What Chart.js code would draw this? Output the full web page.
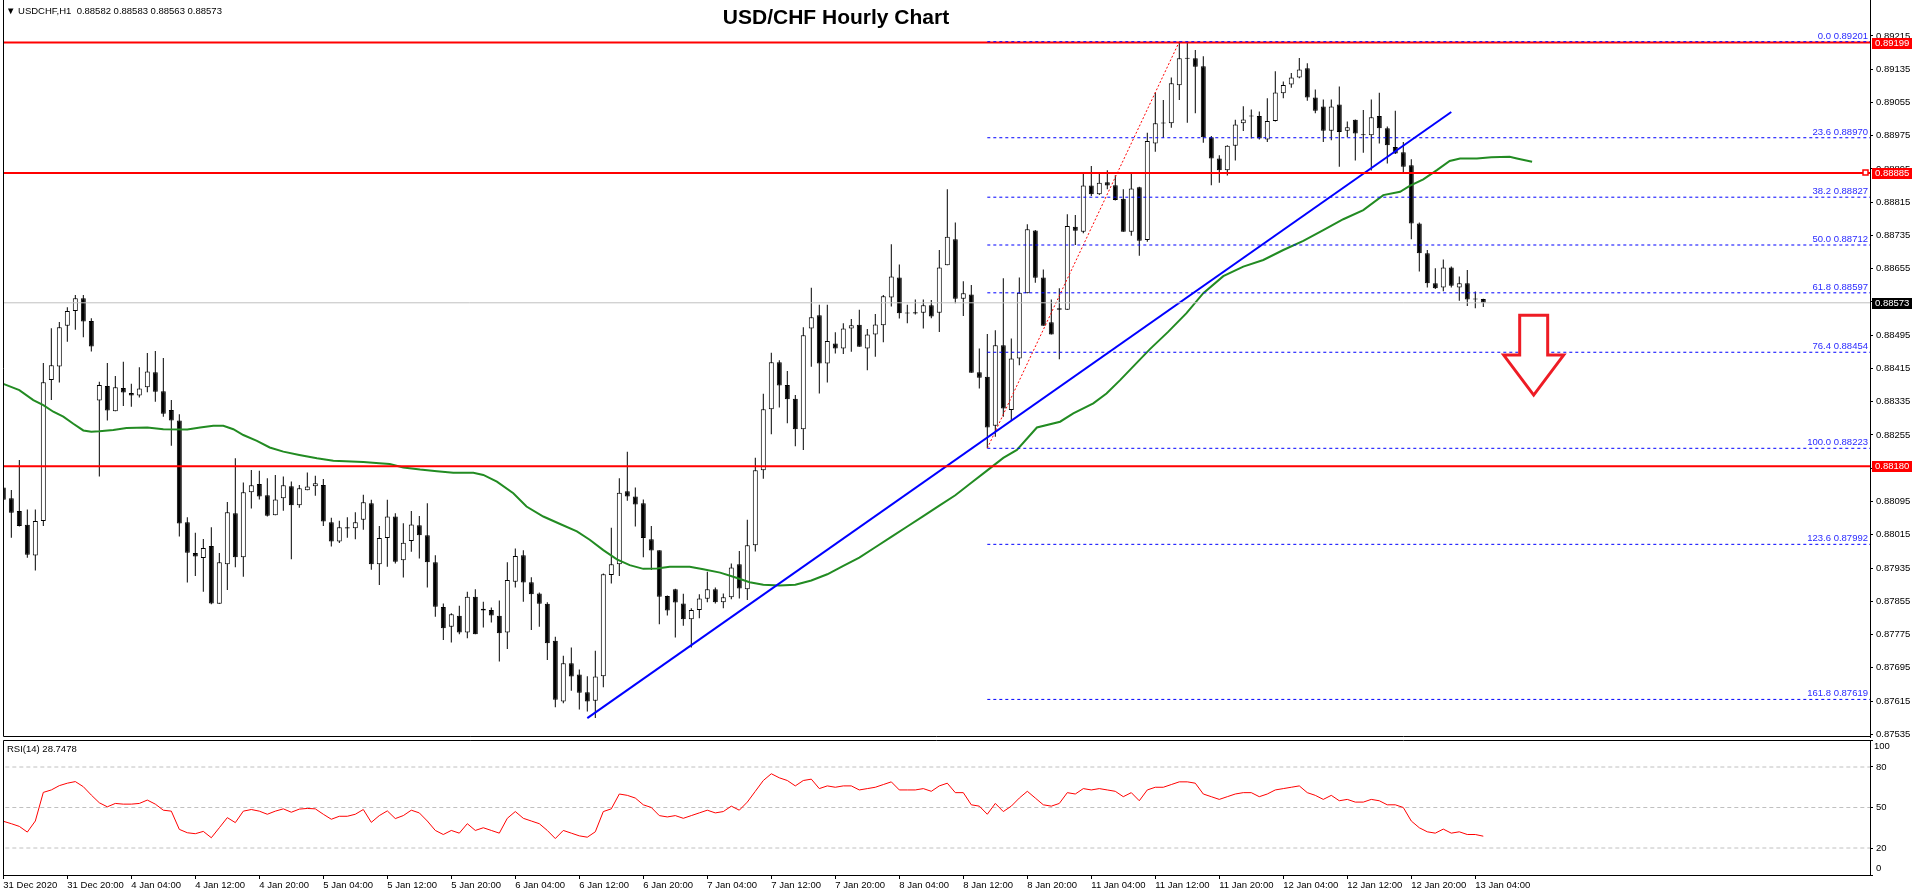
<!DOCTYPE html>
<html><head><meta charset="utf-8">
<title>USD/CHF Hourly Chart</title>
<script src="https://cdn.jsdelivr.net/npm/chart.js@4/dist/chart.umd.min.js"></script>
<style>
html,body{margin:0;padding:0;background:#fff;width:1916px;height:896px;overflow:hidden;font-family:'Liberation Sans',Arial,sans-serif;}
#main{position:absolute;left:0;top:0;}
#rsi{position:absolute;left:0;top:730px;}
.hdr{position:absolute;left:6px;top:5px;font-size:9.5px;color:#000;white-space:pre;}
.title{position:absolute;left:0;width:1672px;text-align:center;top:5px;font-weight:bold;font-size:21px;color:#000;}
.rsil{position:absolute;left:7px;top:743px;font-size:9.5px;color:#000;}
</style></head>
<body>
<canvas id="main" width="1916" height="738"></canvas>
<canvas id="rsi" width="1916" height="166"></canvas>
<div class="hdr" id="hdr"></div>
<div class="title">USD/CHF Hourly Chart</div>
<div class="rsil" id="rsil"></div>
<script>
// ---------- DATA ----------
const symbolName = 'USDCHF,H1';
const opens = [0.88129,0.88103,0.88072,0.88039,0.87965,0.88048,0.88387,0.88420,0.88518,0.88553,0.88584,0.88529,0.88338,0.88373,0.88312,0.88368,0.88356,0.88350,0.88370,0.88406,
0.88360,0.88315,0.88290,0.88045,0.87971,0.87959,0.87988,0.87849,0.87944,0.88067,0.87961,0.88117,0.88137,0.88110,0.88062,0.88103,0.88132,0.88086,0.88122,0.88132,
0.88135,0.88045,0.87999,0.88033,0.88031,0.88051,0.88091,0.87944,0.88007,0.88059,0.87954,0.88000,0.88038,0.88014,0.87949,0.87841,0.87794,0.87820,0.87780,0.87866,
0.87837,0.87834,0.87820,0.87780,0.87902,0.87966,0.87901,0.87874,0.87849,0.87760,0.87614,0.87706,0.87679,0.87636,0.87616,0.87675,0.87918,0.87944,0.88120,0.88107,
0.88091,0.88004,0.87978,0.87868,0.87884,0.87850,0.87812,0.87834,0.87861,0.87884,0.87853,0.87865,0.87944,0.87884,0.87990,0.88170,0.88317,0.88430,0.88375,0.88342,
0.88269,0.88511,0.88543,0.88427,0.88475,0.88463,0.88511,0.88520,0.88463,0.88497,0.88519,0.88586,0.88634,0.88548,0.88550,0.88549,0.88567,0.88549,0.88663,0.88726,
0.88583,0.88593,0.88406,0.88395,0.88277,0.88471,0.88315,0.88439,0.88596,0.88747,0.88634,0.88526,0.88556,0.88556,0.88756,0.88744,0.88855,0.88834,0.88863,0.88856,
0.88823,0.88744,0.88851,0.88724,0.88956,0.89004,0.89005,0.89096,0.89160,0.89161,0.89142,0.88971,0.88920,0.88892,0.88951,0.89005,0.89023,0.89022,0.88966,0.89010,
0.89077,0.89098,0.89115,0.89137,0.89067,0.89045,0.88987,0.89050,0.88987,0.89013,0.88978,0.88976,0.89022,0.88993,0.88948,0.88935,0.88904,0.88764,0.88692,0.88620,
0.88610,0.88658,0.88610,0.88620,0.88583,0.88582];
const highs = [0.88151,0.88123,0.88195,0.88076,0.88076,0.88428,0.88512,0.88527,0.88562,0.88592,0.88592,0.88536,0.88383,0.88428,0.88397,0.88431,0.88378,0.88418,0.88452,0.88457,
0.88440,0.88339,0.88305,0.88057,0.88020,0.88005,0.88033,0.87971,0.88094,0.88199,0.88141,0.88171,0.88169,0.88151,0.88159,0.88155,0.88143,0.88135,0.88165,0.88157,
0.88149,0.88056,0.88049,0.88057,0.88069,0.88111,0.88099,0.88036,0.88099,0.88067,0.88043,0.88072,0.88060,0.88091,0.87966,0.87850,0.87826,0.87844,0.87878,0.87884,
0.87854,0.87840,0.87857,0.87949,0.87982,0.87978,0.87913,0.87876,0.87853,0.87770,0.87724,0.87744,0.87691,0.87675,0.87736,0.87922,0.88032,0.88151,0.88215,0.88129,
0.88100,0.88036,0.87978,0.87869,0.87885,0.87873,0.87838,0.87872,0.87926,0.87888,0.87874,0.87946,0.87976,0.88051,0.88200,0.88354,0.88453,0.88435,0.88409,0.88351,
0.88514,0.88609,0.88568,0.88568,0.88502,0.88524,0.88534,0.88556,0.88510,0.88546,0.88592,0.88714,0.88665,0.88568,0.88581,0.88581,0.88580,0.88700,0.88846,0.88766,
0.88625,0.88616,0.88463,0.88498,0.88507,0.88632,0.88487,0.88634,0.88762,0.88748,0.88653,0.88581,0.88608,0.88786,0.88784,0.88883,0.88902,0.88884,0.88892,0.88880,
0.88846,0.88886,0.88852,0.88982,0.89079,0.89061,0.89115,0.89201,0.89201,0.89181,0.89166,0.88974,0.88928,0.88952,0.89013,0.89046,0.89038,0.89033,0.89065,0.89130,
0.89105,0.89126,0.89162,0.89149,0.89086,0.89062,0.89062,0.89093,0.89009,0.89014,0.89037,0.89062,0.89078,0.88997,0.89035,0.88960,0.88918,0.88766,0.88700,0.88656,
0.88677,0.88660,0.88636,0.88652,0.88600,0.88583];
const lows = [0.88089,0.88008,0.88035,0.87960,0.87929,0.88036,0.88339,0.88381,0.88479,0.88508,0.88490,0.88456,0.88155,0.88290,0.88312,0.88325,0.88323,0.88345,0.88358,0.88335,
0.88299,0.88229,0.88011,0.87900,0.87916,0.87878,0.87848,0.87849,0.87882,0.87937,0.87914,0.88078,0.88100,0.88059,0.88062,0.88073,0.87956,0.88080,0.88122,0.88109,
0.88036,0.87987,0.87995,0.88008,0.88004,0.88027,0.87931,0.87894,0.87938,0.87946,0.87912,0.87974,0.87958,0.87888,0.87818,0.87762,0.87756,0.87776,0.87766,0.87776,
0.87792,0.87804,0.87710,0.87740,0.87888,0.87854,0.87786,0.87794,0.87714,0.87600,0.87610,0.87640,0.87595,0.87590,0.87574,0.87648,0.87898,0.87916,0.88097,0.88035,
0.87961,0.87930,0.87800,0.87821,0.87768,0.87796,0.87744,0.87814,0.87853,0.87850,0.87838,0.87860,0.87862,0.87858,0.87975,0.88150,0.88257,0.88321,0.88283,0.88228,
0.88219,0.88419,0.88355,0.88381,0.88451,0.88450,0.88455,0.88467,0.88411,0.88443,0.88478,0.88564,0.88535,0.88524,0.88545,0.88511,0.88536,0.88503,0.88663,0.88572,
0.88541,0.88405,0.88367,0.88224,0.88251,0.88299,0.88291,0.88423,0.88596,0.88621,0.88518,0.88497,0.88437,0.88556,0.88712,0.88740,0.88830,0.88832,0.88846,0.88819,
0.88744,0.88734,0.88686,0.88720,0.88936,0.88970,0.88994,0.89061,0.89006,0.89029,0.88958,0.88856,0.88862,0.88879,0.88915,0.88986,0.88968,0.88966,0.88960,0.89009,
0.89065,0.89090,0.89113,0.89059,0.89029,0.88960,0.88964,0.88900,0.88971,0.88915,0.88934,0.88891,0.88956,0.88908,0.88931,0.88884,0.88726,0.88648,0.88610,0.88606,
0.88601,0.88610,0.88578,0.88565,0.88560,0.88563];
const closes = [0.88099,0.88068,0.88036,0.87967,0.88048,0.88382,0.88423,0.88514,0.88553,0.88584,0.88528,0.88468,0.88375,0.88314,0.88370,0.88357,0.88350,0.88367,0.88408,0.88359,
0.88306,0.88290,0.88042,0.87972,0.87963,0.87983,0.87850,0.87949,0.88069,0.87961,0.88117,0.88134,0.88107,0.88061,0.88100,0.88134,0.88086,0.88127,0.88131,0.88139,
0.88047,0.87999,0.88033,0.88030,0.88045,0.88093,0.87944,0.88007,0.88059,0.87950,0.87996,0.88040,0.88014,0.87949,0.87842,0.87790,0.87824,0.87780,0.87866,0.87776,
0.87833,0.87821,0.87778,0.87906,0.87964,0.87900,0.87872,0.87849,0.87754,0.87618,0.87706,0.87674,0.87635,0.87614,0.87674,0.87920,0.87944,0.88116,0.88107,0.88088,
0.88007,0.87977,0.87866,0.87833,0.87852,0.87812,0.87834,0.87862,0.87884,0.87853,0.87865,0.87936,0.87886,0.87990,0.88170,0.88317,0.88430,0.88374,0.88341,0.88269,
0.88495,0.88538,0.88427,0.88481,0.88463,0.88511,0.88519,0.88467,0.88497,0.88521,0.88589,0.88636,0.88548,0.88547,0.88547,0.88567,0.88540,0.88658,0.88732,0.88583,
0.88596,0.88405,0.88393,0.88273,0.88471,0.88319,0.88439,0.88597,0.88750,0.88633,0.88518,0.88497,0.88560,0.88758,0.88746,0.88855,0.88834,0.88862,0.88855,0.88820,
0.88744,0.88848,0.88722,0.88962,0.89005,0.89005,0.89101,0.89161,0.89161,0.89141,0.88971,0.88920,0.88892,0.88951,0.89002,0.89014,0.89021,0.88968,0.89010,0.89079,
0.89097,0.89115,0.89134,0.89067,0.89035,0.88987,0.89045,0.88984,0.88995,0.88980,0.88976,0.89019,0.88993,0.88952,0.88932,0.88900,0.88764,0.88692,0.88620,0.88608,
0.88658,0.88614,0.88620,0.88581,0.88581,0.88573];

// moving average, bar position and value
const maBars = [0,2,3.75,5,6.25,7.5,8.75,10,11,12,13.75,15.4,18,20,23,24.6,26.25,27.5,28.75,30,31.7,33.3,35,37,39.2,41.25,45,47,48.3,50,52.1,54.2,56.25,58.75,60,61.7,63.75,65.4,67.5,69.6,71.7,73.3,75,76.7,78.3,80,81.7,83.3,85.8,87.5,89.6,91.25,93.3,95,97,99,101,103,105,107,109,111,113,115,117,119,121,123,125,126.7,129.2,132.1,133.75,136.25,137.9,139.6,143.3,145.6,147.9,150,152.5,155,157.5,160,162.5,165,167.5,170,172.5,174.6,175.8,177.5,179.2,180.8,182.1,184.2,186,188.3,189.2,191.1];
const maValues = [0.88378,0.88363,0.88339,0.88327,0.88311,0.88299,0.88282,0.88266,0.88263,0.88264,0.88267,0.88272,0.88273,0.88269,0.88268,0.88273,0.88277,0.88277,0.88269,0.88255,0.88241,0.88225,0.88215,0.88207,0.88199,0.88193,0.88190,0.88187,0.88185,0.88177,0.88172,0.88168,0.88164,0.88164,0.88159,0.88143,0.88115,0.88083,0.88059,0.88041,0.88023,0.88003,0.87978,0.87956,0.87942,0.87933,0.87934,0.87938,0.87938,0.87932,0.87924,0.87914,0.87901,0.87895,0.87893,0.87895,0.87905,0.87920,0.87940,0.87960,0.87985,0.88010,0.88035,0.88060,0.88085,0.88110,0.88140,0.88170,0.88200,0.88219,0.88273,0.88287,0.88307,0.88331,0.88355,0.88387,0.88461,0.88503,0.88548,0.88596,0.88637,0.88660,0.88676,0.88700,0.88722,0.88748,0.88774,0.88796,0.88832,0.88840,0.88854,0.88870,0.88892,0.88914,0.88920,0.88920,0.88923,0.88924,0.88920,0.88912];

// RSI(14), one value per bar
const rsiValues = [39.8,38,36,31.8,40,61.2,63,66.2,68,69.2,65.4,59.2,53.5,50.5,53,52.5,52.5,53,55.5,52.5,
48,47.3,33.8,31.3,30.6,32.3,27.6,35,42.5,38.8,47.3,48.5,47.3,45,47.3,49,46.5,48.8,49.3,49,
45,41.3,43.5,43.5,45,48.5,39,44,47.5,41.8,44,48,46,40,33,30,33,31,38,33,
35,33,31,42,47,42,40,38,33,27,33,31,29,28,32,47,49,60,59,57,
52,50,44,43,44,42,44,46,48,46,47,51,48,54,62,70,75,72,70,66,
70,71,64,66,65,66,66,63,64,65,67,69,63,63,63,64,62,66,68,61,
61,52,51,45,53,47,51,57,62,57,52,51,53,61,60,64,63,64,63,62,
58,61,55,63,65,65,67,69,69,68,60,58,56,58,60,61,61,58,60,63,
64,65,66,61,59,56,59,55,56,54,54,56,55,52,52,50,40,35,32,31,
34,31,32,30,30,28.75];
const rsiLast = '28.7478';
const rsiLevels = [20, 50, 80];
const rsiTicks = [0, 20, 50, 80, 100];

// horizontal support / resistance lines
const redLevels = [0.89199, 0.88885, 0.88180];
const lastPrice = 0.88573;

// Fibonacci retracement (from 100.0 at bar 123 low to 0.0 at bar 147 high)
const fibRatios = [0.0, 23.6, 38.2, 50.0, 61.8, 76.4, 100.0, 123.6, 161.8];
const fibPrices = [0.89201, 0.88970, 0.88827, 0.88712, 0.88597, 0.88454, 0.88223, 0.87992, 0.87619];
const fibStartBar = 123;
const fibSwing = {bars:[123, 147], prices:[0.88223, 0.89201]};

// blue trend line
const trendBars = [73, 181];
const trendPrices = [0.87574, 0.89032];

// down arrow annotation
const arrowBar = 191.3;
const arrowPrices = [0.88543, 0.88351]; // top, tip

// axis ticks
const priceTicks = [0.87535,0.87615,0.87695,0.87775,0.87855,0.87935,0.88015,0.88095,0.88175,0.88255,0.88335,0.88415,0.88495,0.88575,0.88655,0.88735,0.88815,0.88895,0.88975,0.89055,0.89135,0.89215];
const timeTickBars = [0,8,16,24,32,40,48,56,64,72,80,88,96,104,112,120,128,136,144,152,160,168,176,184];
const timeTickLabels = ['31 Dec 2020','31 Dec 20:00','4 Jan 04:00','4 Jan 12:00','4 Jan 20:00','5 Jan 04:00','5 Jan 12:00','5 Jan 20:00','6 Jan 04:00','6 Jan 12:00','6 Jan 20:00','7 Jan 04:00','7 Jan 12:00','7 Jan 20:00','8 Jan 04:00','8 Jan 12:00','8 Jan 20:00','11 Jan 04:00','11 Jan 12:00','11 Jan 20:00','12 Jan 04:00','12 Jan 12:00','12 Jan 20:00','13 Jan 04:00'];

// ---------- LAYOUT CONSTANTS ----------
const X_MIN = -0.04, X_MAX = 233.34;
const Y_MIN = 0.875286, Y_MAX = 0.893013;
const FONT = 'Liberation Sans';
const N = opens.length;

document.getElementById('hdr').textContent = '\u25BC ' + symbolName + '  ' +
  [opens[N-1], highs[N-1], lows[N-1], closes[N-1]].map(v=>v.toFixed(5)).join(' ');
document.getElementById('rsil').textContent = 'RSI(14) ' + rsiLast;

// ---------- DATASETS ----------
const wickData = opens.map((o,i)=>({x:i, y:[lows[i], highs[i]]}));
const bodyData = opens.map((o,i)=>({x:i, y:[o, closes[i]]}));
const bodyFill = opens.map((o,i)=> (closes[i] - o > 0.00002) ? '#ffffff' : '#000000');
const hLine = (v, color, width, dash, from) => ({
  type:'line', data:[{x:(from===undefined?-5:from), y:v},{x:300, y:v}],
  borderColor:color, borderWidth:width, borderDash:dash||[], pointRadius:0, order:1, fill:false
});

const mainDatasets = [
  hLine(lastPrice, '#c0c0c0', 1),
  ...fibPrices.map(p => hLine(p, '#0000ff', 1, [3,3], fibStartBar)),
  ...redLevels.map(p => hLine(p, '#ff0000', 2)),
  {type:'line', data: maBars.map((b,k)=>({x:b, y:maValues[k]})), borderColor:'#228b22', borderWidth:2, pointRadius:0, tension:0, order:2},
  {type:'line', data: trendBars.map((b,k)=>({x:b, y:trendPrices[k]})), borderColor:'#0000ff', borderWidth:2, pointRadius:0, order:1},
  {type:'line', data: fibSwing.bars.map((b,k)=>({x:b, y:fibSwing.prices[k]})), borderColor:'#ff0000', borderWidth:1, borderDash:[2,2], pointRadius:0, order:1},
  {type:'bar', data: wickData, backgroundColor:'#000', barThickness:1, grouped:false, order:10, inflateAmount:0},
  {type:'bar', data: bodyData, backgroundColor: bodyFill, borderColor:'#000', borderWidth:1, borderSkipped:false,
   barThickness:5, grouped:false, order:9, minBarLength:1, inflateAmount:0}
];

// remove automatic label-overflow padding so the plot area is exact
function noPad(s){ s.paddingTop = 0; s.paddingBottom = 0; s.paddingLeft = 0; s.paddingRight = 0; }

// ---------- PLUGINS ----------
const mainOverlay = {
  id:'mainOverlay',
  afterDraw(chart){
    const {ctx, chartArea:a, scales:{x, y}} = chart;
    ctx.save();
    // frame
    ctx.strokeStyle = '#000'; ctx.lineWidth = 1;
    ctx.beginPath();
    ctx.moveTo(a.left+0.5, 0); ctx.lineTo(a.left+0.5, a.bottom-0.5); ctx.lineTo(a.right, a.bottom-0.5);
    ctx.stroke();
    // fib labels
    ctx.font = '9.5px "' + FONT + '"';
    ctx.fillStyle = '#2a2aff'; ctx.textAlign = 'right'; ctx.textBaseline = 'alphabetic';
    fibRatios.forEach((r,k)=>{
      const py = y.getPixelForValue(fibPrices[k]);
      ctx.fillText(r.toFixed(1) + ' ' + fibPrices[k].toFixed(5), a.right - 2, py - 3);
    });
    // arrow
    const cx = x.getPixelForValue(arrowBar);
    const ty = y.getPixelForValue(arrowPrices[0]);
    const tip = y.getPixelForValue(arrowPrices[1]);
    const neck = tip - 40;
    ctx.beginPath();
    ctx.moveTo(cx-14, ty); ctx.lineTo(cx+14, ty); ctx.lineTo(cx+14, neck); ctx.lineTo(cx+30, neck);
    ctx.lineTo(cx, tip); ctx.lineTo(cx-30, neck); ctx.lineTo(cx-14, neck); ctx.closePath();
    ctx.fillStyle = '#fff'; ctx.fill();
    ctx.strokeStyle = '#ee1c25'; ctx.lineWidth = 3; ctx.lineJoin = 'miter'; ctx.stroke();
    // small marker at end of middle red line
    const my = Math.round(y.getPixelForValue(redLevels[1]));
    ctx.fillStyle = '#fff'; ctx.strokeStyle = '#ff0000'; ctx.lineWidth = 1.5;
    ctx.fillRect(a.right-7, my-3, 5, 5); ctx.strokeRect(a.right-7, my-3, 5, 5);
    // price boxes on axis
    ctx.font = '9.5px "' + FONT + '"'; ctx.textAlign = 'left'; ctx.textBaseline = 'middle';
    const box = (v, bg) => {
      const py = Math.round(y.getPixelForValue(v));
      ctx.fillStyle = bg; ctx.fillRect(a.right+2, py-5, 40, 11);
      ctx.fillStyle = '#fff'; ctx.fillText(v.toFixed(5), a.right+5, py+0.5);
    };
    redLevels.forEach(v => box(v, '#ff0000'));
    box(lastPrice, '#000000');
    ctx.restore();
  }
};

const rsiOverlay = {
  id:'rsiOverlay',
  afterDraw(chart){
    const {ctx, chartArea:a} = chart;
    ctx.save();
    ctx.strokeStyle = '#000'; ctx.lineWidth = 1;
    ctx.beginPath();
    ctx.moveTo(a.right, a.top+0.5); ctx.lineTo(a.left+0.5, a.top+0.5); ctx.lineTo(a.left+0.5, a.bottom);
    ctx.stroke();
    // end labels of the RSI scale, kept inside the panel
    ctx.font = '9.5px "' + FONT + '"'; ctx.fillStyle = '#000';
    ctx.textAlign = 'left'; ctx.textBaseline = 'middle';
    ctx.fillText(String(rsiTicks[rsiTicks.length-1]), a.right + 4, a.top + 6);
    ctx.fillText(String(rsiTicks[0]), a.right + 6, a.bottom - 7);
    ctx.restore();
  }
};

// ---------- CHARTS ----------
new Chart(document.getElementById('main'), {
  type:'bar',
  data:{datasets: mainDatasets},
  options:{
    responsive:false, animation:false, events:[],
    layout:{padding:{left:3, top:0, right:0, bottom:1}},
    plugins:{legend:{display:false}, tooltip:{enabled:false}},
    scales:{
      x:{type:'linear', display:false, min:X_MIN, max:X_MAX, offset:false, bounds:'data', grid:{offset:false}, afterFit:noPad},
      y:{type:'linear', position:'right', min:Y_MIN, max:Y_MAX, bounds:'data', beginAtZero:false,
         afterFit(s){ s.width = 46; noPad(s); },
         afterBuildTicks(s){ s.ticks = priceTicks.map(v=>({value:v})); },
         ticks:{callback:v=>Number(v).toFixed(5), color:'#000', font:{family:FONT, size:9.5}, padding:3, autoSkip:false},
         grid:{drawOnChartArea:false, drawTicks:true, tickLength:3, color:'#000'},
         border:{display:true, color:'#000', width:1}}
    }
  },
  plugins:[mainOverlay]
});

new Chart(document.getElementById('rsi'), {
  type:'line',
  data:{datasets:[
    ...rsiLevels.map(v=>({data:[{x:-5,y:v},{x:300,y:v}], borderColor:'#c0c0c0', borderWidth:1, borderDash:[4,3], pointRadius:0, order:2})),
    {data: rsiValues.map((v,i)=>({x:i, y:v})), borderColor:'#ff0000', borderWidth:1, pointRadius:0, tension:0, order:1}
  ]},
  options:{
    responsive:false, animation:false, events:[],
    layout:{padding:{left:3, top:10, right:0, bottom:0}},
    plugins:{legend:{display:false}, tooltip:{enabled:false}},
    scales:{
      x:{type:'linear', min:X_MIN, max:X_MAX, offset:false, bounds:'data',
         afterFit(s){ s.height = 21; noPad(s); },
         afterBuildTicks(s){ s.ticks = timeTickBars.map(v=>({value:v})); },
         ticks:{callback:(v)=>timeTickLabels[timeTickBars.indexOf(Math.round(v))], align:'start', maxRotation:0, minRotation:0, autoSkip:false,
                color:'#000', font:{family:FONT, size:9.5}, padding:1},
         grid:{drawOnChartArea:false, drawTicks:true, tickLength:4, color:'#000'},
         border:{display:true, color:'#000', width:1}},
      y:{type:'linear', position:'right', min:0, max:100, bounds:'data',
         afterFit(s){ s.width = 46; noPad(s); },
         afterBuildTicks(s){ s.ticks = rsiTicks.map(v=>({value:v})); },
         ticks:{callback:(v)=> (v===rsiTicks[0] || v===rsiTicks[rsiTicks.length-1]) ? '' : String(v),
                color:'#000', font:{family:FONT, size:9.5}, padding:3, autoSkip:false},
         grid:{drawOnChartArea:false, drawTicks:true, tickLength:3, color:'#000'},
         border:{display:true, color:'#000', width:1}}
    }
  },
  plugins:[rsiOverlay]
});
</script>
</body></html>
